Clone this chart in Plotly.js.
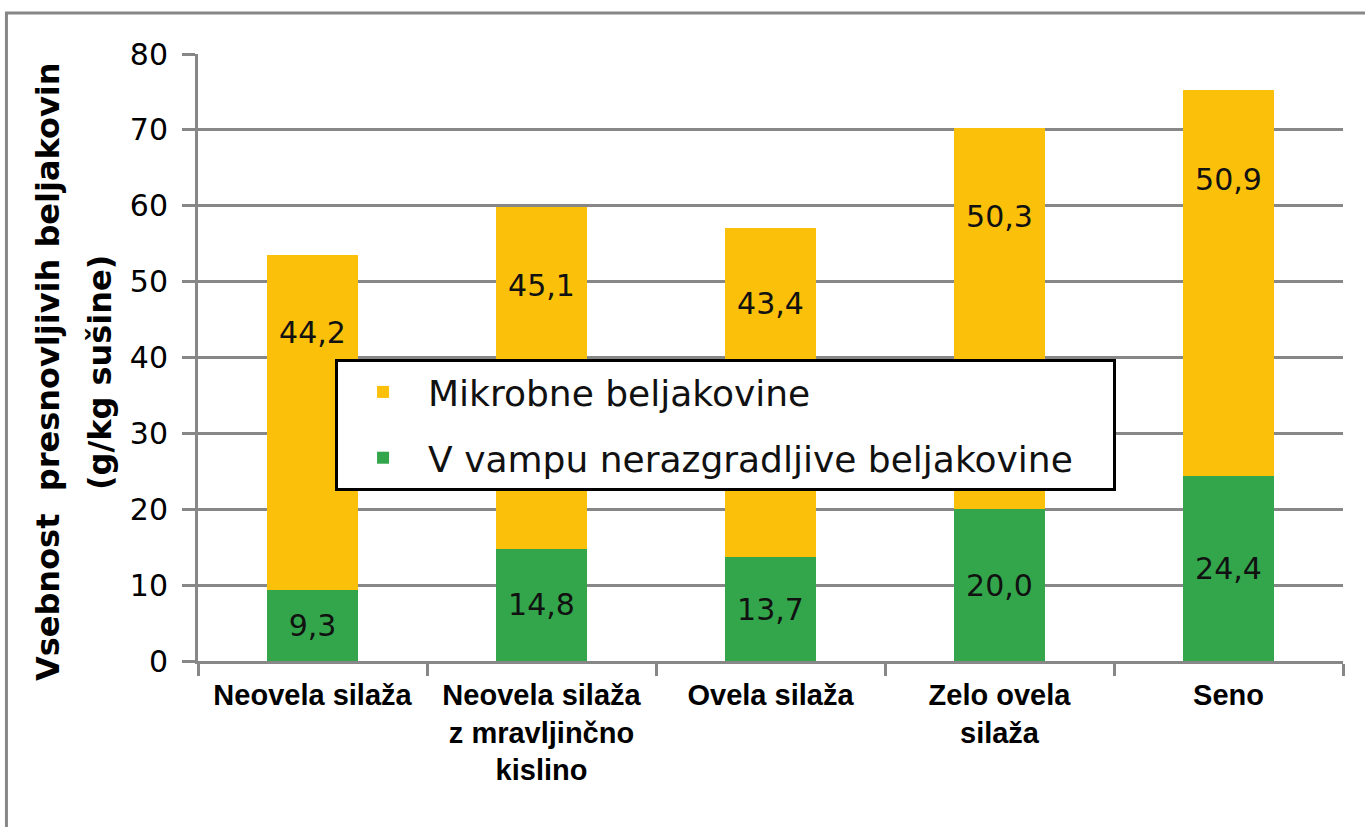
<!DOCTYPE html>
<html>
<head>
<meta charset="utf-8">
<script src="https://cdn.plot.ly/plotly-3.0.1.min.js"></script>
<style>html,body{margin:0;padding:0;background:#fff;}#chart{width:1365px;height:827px;}</style>
</head>
<body>
<div id="chart"></div>
<script>
// Data
const categories = [
  "Neovela silaža",
  "Neovela silaža<br>z mravljinčno<br>kislino",
  "Ovela silaža",
  "Zelo ovela<br>silaža",
  "Seno"
];
const undegradable = [9.3, 14.8, 13.7, 20.0, 24.4];   // V vampu nerazgradljive beljakovine
const microbial = [44.2, 45.1, 43.4, 50.3, 50.9];     // Mikrobne beljakovine
const seriesNames = ["V vampu nerazgradljive beljakovine", "Mikrobne beljakovine"];
const yTitleLines = ["Vsebnost  presnovljivih beljakovin", "(g/kg sušine)"];

const YELLOW = "#FAC00A";
const GREEN = "#33A64C";
const GRID = "#878787";
const PAD = "\u00a0\u00a0\u00a0"; // right padding inside legend box

// label anchor for the upper segment (placed in the upper part of the segment)
const microLabelY = microbial.map((v, i) => undegradable[i] + v * 0.76);

const traces = [
  {
    type: "bar", name: seriesNames[0] + PAD, x: categories, y: undegradable,
    marker: {color: GREEN}, legendgroup: "a", legendrank: 2,
    texttemplate: "%{y:.1f}", textposition: "inside", insidetextanchor: "middle",
    textfont: {family: "DejaVu Sans", size: 30, color: "#111"},
    hoverinfo: "skip"
  },
  {
    type: "bar", name: seriesNames[1], x: categories, y: microbial,
    marker: {color: YELLOW}, legendgroup: "b", legendrank: 1,
    hoverinfo: "skip"
  },
  {
    type: "scatter", mode: "text", x: categories, y: microLabelY,
    customdata: microbial, texttemplate: "%{customdata:.1f}",
    textposition: "middle center",
    textfont: {family: "DejaVu Sans", size: 30, color: "#111"},
    showlegend: false, hoverinfo: "skip", cliponaxis: false
  }
];

const layout = {
  width: 1365, height: 827,
  margin: {l: 198, r: 22, t: 54, b: 166},
  paper_bgcolor: "#fff", plot_bgcolor: "#fff",
  separators: ", ",
  barmode: "stack", bargap: 0.603,
  showlegend: true,
  legend: {
    x: 0.1197, y: 0.4975, xanchor: "left", yanchor: "top",
    bgcolor: "#fff", bordercolor: "#000", borderwidth: 3,
    font: {family: "DejaVu Sans", size: 36, color: "#111"},
    traceorder: "grouped", tracegroupgap: 16,
    itemwidth: 80
  },
  xaxis: {
    type: "category",
    showline: true, linecolor: GRID, linewidth: 3,
    ticks: "outside", tickson: "boundaries", ticklen: 12, tickwidth: 3, tickcolor: GRID,
    tickfont: {family: "Liberation Sans", size: 29, color: "#000", weight: "bold"},
    ticklabelstandoff: 6,
    showgrid: false, zeroline: false, fixedrange: true
  },
  yaxis: {
    range: [0, 80], dtick: 10, tick0: 0,
    showline: true, linecolor: GRID, linewidth: 3,
    ticks: "outside", ticklen: 13, tickwidth: 3, tickcolor: GRID,
    showgrid: true, gridcolor: GRID, gridwidth: 3,
    zeroline: false,
    tickfont: {family: "DejaVu Sans", size: 30, color: "#000"},
    ticklabelstandoff: 8, fixedrange: true
  },
  annotations: [
    {text: yTitleLines[0], xref: "paper", yref: "paper", x: -0.131, y: 0.476,
     xanchor: "center", yanchor: "middle", textangle: -90, showarrow: false,
     font: {family: "DejaVu Sans", size: 32, color: "#000", weight: "bold"}},
    {text: yTitleLines[1], xref: "paper", yref: "paper", x: -0.0856, y: 0.476,
     xanchor: "center", yanchor: "middle", textangle: -90, showarrow: false,
     font: {family: "DejaVu Sans", size: 32, color: "#000", weight: "bold"}}
  ],
  shapes: [
    {type: "rect", xref: "paper", yref: "paper", x0: -0.1673, x1: 1.05, y0: -0.35, y1: 1.0675,
     line: {color: GRID, width: 3}, fillcolor: "rgba(0,0,0,0)", layer: "below"}
  ]
};

Plotly.newPlot("chart", traces, layout, {displayModeBar: false, staticPlot: true});
</script>
</body>
</html>
